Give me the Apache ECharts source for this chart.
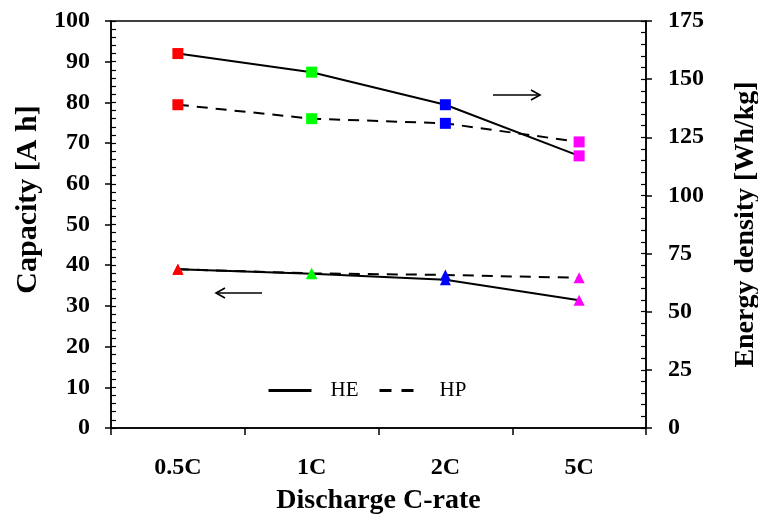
<!DOCTYPE html>
<html>
<head>
<meta charset="utf-8">
<script src="https://cdn.jsdelivr.net/npm/echarts@6/dist/echarts.min.js"></script>
<style>
  html, body { margin: 0; padding: 0; background: #fff; }
  #chart { width: 758px; height: 515px; }
</style>
</head>
<body>
<div id="chart"></div>
<script>
// Discharge rates on the category axis
var rates = ['0.5C', '1C', '2C', '5C'];
// Marker colour for each rate
var rateColors = ['#ff0000', '#00ff00', '#0000ff', '#ff00ff'];

// Capacity [Ah] (left axis)
var capacityHE = [39.0, 37.9, 36.4, 31.4];
var capacityHP = [39.0, 38.0, 37.6, 36.9];

// Energy density [Wh/kg] (right axis)
var energyHE = [161, 153, 139, 117];
var energyHP = [139, 133, 131, 123];

// Axis ranges
var capMax = 100, capStep = 10;
var enMax = 175, enStep = 25;

var FONT = 'Liberation Serif, Times New Roman, serif';

function coloured(values) {
  return values.map(function (v, i) {
    return { value: v, itemStyle: { color: rateColors[i] } };
  });
}

function lineSeries(name, values, yIndex, symbol, dashed) {
  return {
    name: name,
    type: 'line',
    yAxisIndex: yIndex,
    data: coloured(values),
    symbol: symbol,
    symbolSize: 11,
    itemStyle: { color: '#000' },
    lineStyle: { color: '#000', width: 2, type: dashed ? [11, 8] : 'solid' },
    emphasis: { disabled: true },
    animation: false,
    z: 3
  };
}

var labelStyle = { fontFamily: FONT, fontWeight: 'bold', fontSize: 24, color: '#000' };
var nameStyle = { fontFamily: FONT, fontWeight: 'bold', fontSize: 28, color: '#000' };

var chart = echarts.init(document.getElementById('chart'), null, { renderer: 'canvas' });

chart.setOption({
  backgroundColor: '#fff',
  animation: false,
  grid: {
    left: 111, right: 112, top: 21, bottom: 87,
    outerBoundsMode: 'none',
    containLabel: false,
    show: true, borderColor: '#000', borderWidth: 1.5, backgroundColor: 'transparent'
  },
  legend: [
    {
      data: ['HE'], left: 267, top: 380, padding: 0,
      itemWidth: 43, itemHeight: 14,
      itemStyle: { opacity: 0 },
      lineStyle: { width: 3, type: 'solid', color: '#000' },
      textStyle: { fontFamily: FONT, fontSize: 21, color: '#000', padding: [0, 0, 0, 14] },
      selectedMode: false
    },
    {
      data: ['HP'], left: 378, top: 380, padding: 0,
      itemWidth: 35, itemHeight: 14,
      itemStyle: { opacity: 0 },
      lineStyle: { width: 3, type: [12, 10], color: '#000' },
      textStyle: { fontFamily: FONT, fontSize: 21, color: '#000', padding: [0, 0, 0, 20] },
      selectedMode: false
    }
  ],
  xAxis: {
    type: 'category',
    data: rates,
    boundaryGap: true,
    axisLine: { lineStyle: { color: '#000', width: 1.5 } },
    axisTick: { show: true, length: 7, lineStyle: { color: '#000', width: 1.5 } },
    axisLabel: Object.assign({ margin: 28 }, labelStyle),
    name: 'Discharge C-rate',
    nameLocation: 'middle',
    nameGap: 59,
    nameTextStyle: nameStyle,
    splitLine: { show: false }
  },
  yAxis: [
    {
      type: 'value', position: 'left', min: 0, max: capMax, interval: capStep,
      axisLine: { show: true, lineStyle: { color: '#000', width: 1.5 } },
      axisTick: { show: true, length: 6, lineStyle: { color: '#000', width: 1.5 } },
      axisLabel: Object.assign({ margin: 21 }, labelStyle),
      splitLine: { show: false },
      name: 'Capacity [A h]',
      nameLocation: 'middle',
      nameGap: 67,
      nameTextStyle: Object.assign({}, nameStyle, { fontSize: 30, padding: [0, 0, 0, 50] })
    },
    {
      type: 'value', position: 'right', min: 0, max: enMax, interval: enStep,
      axisLine: { show: true, lineStyle: { color: '#000', width: 1.5 } },
      axisTick: { show: true, length: 6, lineStyle: { color: '#000', width: 1.5 } },
      axisLabel: Object.assign({ margin: 22 }, labelStyle),
      splitLine: { show: false },
      name: 'Energy density [Wh/kg]',
      nameLocation: 'middle',
      nameGap: 86,
      nameTextStyle: nameStyle
    },
    {
      // inner major + minor ticks of the capacity axis
      type: 'value', position: 'left', min: 0, max: capMax, interval: capStep,
      axisLine: { show: false },
      axisTick: { show: true, inside: true, length: 5, lineStyle: { color: '#000', width: 1.2 } },
      minorTick: { show: true, splitNumber: 5, length: 5, lineStyle: { color: '#000', width: 1.2 } },
      axisLabel: { show: false },
      splitLine: { show: false }
    },
    {
      // inner major + minor ticks of the energy axis
      type: 'value', position: 'right', min: 0, max: enMax, interval: enStep,
      axisLine: { show: false },
      axisTick: { show: true, inside: true, length: 5, lineStyle: { color: '#000', width: 1.2 } },
      minorTick: { show: true, splitNumber: 5, length: 5, lineStyle: { color: '#000', width: 1.2 } },
      axisLabel: { show: false },
      splitLine: { show: false }
    }
  ],
  series: [
    lineSeries('HE', capacityHE, 0, 'triangle', false),
    lineSeries('HP', capacityHP, 0, 'triangle', true),
    lineSeries('HE', energyHE, 1, 'rect', false),
    lineSeries('HP', energyHP, 1, 'rect', true)
  ],
  graphic: [
    // arrow pointing at the energy-density axis
    { type: 'polyline', shape: { points: [[493, 95], [540, 95]] }, style: { stroke: '#000', lineWidth: 1.6, fill: null } },
    { type: 'polyline', shape: { points: [[531, 90], [540, 95], [531, 100]] }, style: { stroke: '#000', lineWidth: 1.6, fill: null } },
    // arrow pointing at the capacity axis
    { type: 'polyline', shape: { points: [[216, 293], [262, 293]] }, style: { stroke: '#000', lineWidth: 1.6, fill: null } },
    { type: 'polyline', shape: { points: [[225, 288], [216, 293], [225, 298]] }, style: { stroke: '#000', lineWidth: 1.6, fill: null } }
  ]
});
</script>
</body>
</html>
